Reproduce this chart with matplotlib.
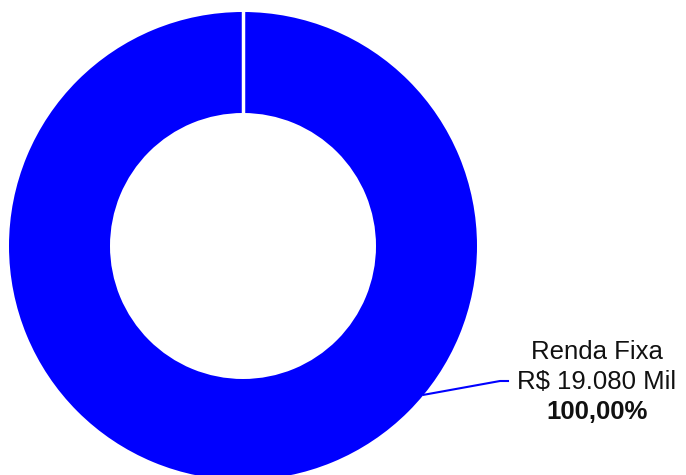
import numpy as np
import matplotlib
matplotlib.use("Agg")
import matplotlib.pyplot as plt

categories = ["Renda Fixa"]
values_mil = [19080]
percent_labels = ["100,00%"]
colors = ["#0000FF"]

W, H = 686, 475
fig = plt.figure(figsize=(W / 100, H / 100), dpi=100)
ax = fig.add_axes([0, 0, 1, 1])
plt.rcParams['font.family'] = ['Liberation Sans', 'DejaVu Sans']

cx, cy = 243, H - 246
R, r = 234, 133
start = 90
ax.pie(values_mil, colors=colors, startangle=start, counterclock=False,
       center=(cx, cy), radius=R,
       wedgeprops=dict(width=R - r, edgecolor="none", linewidth=0))
# wedge separator edge at the start angle (white border)
a = np.deg2rad(start)
ax.plot([cx + (r - 2) * np.cos(a), cx + (R + 2) * np.cos(a)],
        [cy + (r - 2) * np.sin(a), cy + (R + 2) * np.sin(a)],
        color="white", lw=2.5, solid_capstyle="butt", zorder=5)
ax.set_xlim(0, W)
ax.set_ylim(0, H)
ax.set_aspect("equal")
ax.axis("off")

# leader line
ang = np.deg2rad(-39.5)
p0 = (cx + R * np.cos(ang), cy + R * np.sin(ang))
p1 = (500, H - 381)
p2 = (508, H - 381)
ax.plot([p0[0], p1[0], p2[0]], [p0[1], p1[1], p2[1]], color="#0000FF", lw=1.5)

tx = 597
ax.text(tx, H - 352, categories[0], ha="center", va="center", fontsize=18.5, color="#111111")
ax.text(tx, H - 382, "R$ {:,.0f} Mil".format(values_mil[0]).replace(",", "."),
        ha="center", va="center", fontsize=18.5, color="#111111")
ax.text(tx, H - 412, percent_labels[0], ha="center", va="center", fontsize=18.5,
        fontweight="bold", color="#111111")

fig.savefig("out.png", dpi=100)
